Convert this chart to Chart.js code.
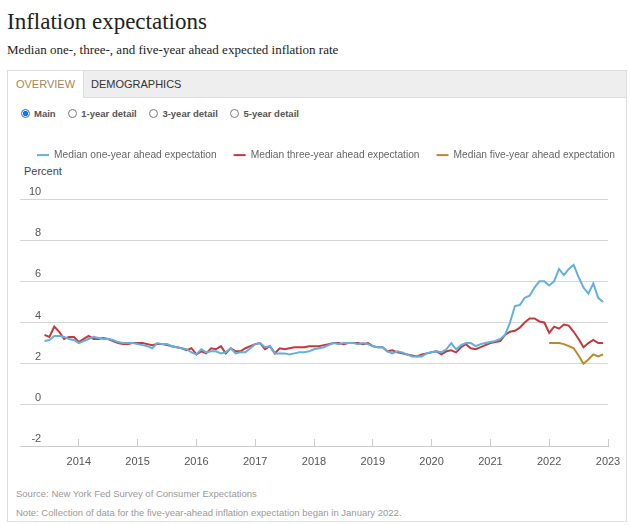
<!DOCTYPE html>
<html>
<head>
<meta charset="utf-8">
<script src="https://cdn.jsdelivr.net/npm/chart.js@4"></script>
<style>
body { margin:0; background:#fff; font-family:"Liberation Sans", Arial, sans-serif; }
#page { position:relative; width:630px; height:525px; overflow:hidden; }
h1 { position:absolute; left:7px; top:9px; margin:0; font:400 23px "Liberation Serif", serif; color:#222; }
.sub { position:absolute; left:7px; top:42px; font:13px "Liberation Serif", serif; color:#222; }
.box { position:absolute; left:7px; top:70px; width:618px; height:450px; border:1px solid #ddd; }
.tabs { position:absolute; left:0; top:0; right:0; height:26px; background:#eee; border-bottom:1px solid #ddd; }
.tab { position:absolute; top:0; height:27px; line-height:27px; font-size:11px; }
.tab.on { left:0; width:75px; background:#fff; color:#a4875a; text-align:center; border-right:1px solid #ddd; }
.tab.off { left:83px; color:#333; }
.radios { position:absolute; left:13px; top:36px; font-size:9.5px; font-weight:bold; color:#555; }
.radios span { display:inline-block; vertical-align:middle; }
.r { width:9px; height:9px; border:1px solid #777; border-radius:50%; margin-right:4px; box-sizing:border-box; }
.r.sel { border:1px solid #1a73e8; background:radial-gradient(circle, #1a73e8 2.5px, #fff 3px); }
.lbl { margin-right:10px; }
.percent { position:absolute; left:24px; top:165px; font-size:11px; color:#444; }
#wrap { position:absolute; left:8px; top:128px; width:640px; height:338px; }
.note { position:absolute; left:16px; font-size:9.5px; color:#999; }
</style>
</head>
<body>
<div id="page">
  <h1>Inflation expectations</h1>
  <div class="sub">Median one-, three-, and five-year ahead expected inflation rate</div>
  <div class="box">
    <div class="tabs">
      <div class="tab on">OVERVIEW</div>
      <div class="tab off">DEMOGRAPHICS</div>
    </div>
    <div class="radios">
      <span class="r sel"></span><span class="lbl">Main</span>
      <span class="r"></span><span class="lbl">1-year detail</span>
      <span class="r"></span><span class="lbl">3-year detail</span>
      <span class="r"></span><span class="lbl">5-year detail</span>
    </div>
  </div>
  <div class="percent">Percent</div>
  <div id="wrap"><canvas id="chart"></canvas></div>
  <div class="note" style="top:488px">Source: New York Fed Survey of Consumer Expectations</div>
  <div class="note" style="top:507px">Note: Collection of data for the five-year-ahead inflation expectation began in January 2022.</div>
</div>
<script>
// monthly medians, June 2013 - Dec 2022
const oneYear = [
    3.1, 3.15, 3.35, 3.35, 3.3, 3.2, 3.15,
    3.0, 3.1, 3.2, 3.3, 3.25, 3.2, 3.2, 3.15, 3.05, 3.0, 3.0, 3.0,
    2.95, 2.9, 2.85, 2.75, 3.0, 2.95, 2.95, 2.85, 2.8, 2.75, 2.7, 2.55,
    2.45, 2.7, 2.55, 2.6, 2.6, 2.5, 2.55, 2.75, 2.5, 2.55, 2.55, 2.75,
    2.95, 3.0, 2.8, 2.85, 2.5, 2.5, 2.5, 2.45, 2.5, 2.55, 2.55, 2.6,
    2.7, 2.75, 2.8, 2.9, 3.0, 2.95, 3.0, 3.0, 3.0, 2.95, 3.0, 2.95,
    2.85, 2.8, 2.8, 2.6, 2.5, 2.6, 2.55, 2.45, 2.35, 2.35, 2.35, 2.5,
    2.55, 2.6, 2.55, 2.7, 3.0, 2.7, 2.9, 3.0, 3.0, 2.85, 2.95, 3.0,
    3.05, 3.1, 3.2, 3.4, 4.0, 4.8, 4.85, 5.2, 5.3, 5.7, 6.0, 6.0,
    5.8, 6.0, 6.6, 6.3, 6.6, 6.8, 6.2, 5.7, 5.4, 5.9, 5.2, 5.0
];
const threeYear = [
    3.4, 3.3, 3.8, 3.55, 3.2, 3.3, 3.3,
    3.05, 3.2, 3.35, 3.2, 3.2, 3.25, 3.2, 3.1, 3.0, 2.95, 2.95, 3.0,
    3.0, 3.0, 2.95, 2.9, 2.95, 2.95, 2.9, 2.85, 2.8, 2.75, 2.65, 2.75,
    2.45, 2.6, 2.5, 2.75, 2.7, 2.85, 2.5, 2.75, 2.6, 2.6, 2.75, 2.85,
    2.95, 3.0, 2.7, 2.85, 2.5, 2.75, 2.7, 2.75, 2.8, 2.8, 2.8, 2.85,
    2.85, 2.85, 2.9, 2.95, 3.0, 3.0, 2.95, 3.0, 3.0, 3.0, 2.95, 3.0,
    2.85, 2.8, 2.8, 2.6, 2.65, 2.55, 2.5, 2.45, 2.4, 2.35, 2.45, 2.5,
    2.55, 2.6, 2.45, 2.6, 2.65, 2.55, 2.8, 2.95, 2.75, 2.7, 2.8, 2.9,
    3.0, 3.05, 3.1, 3.4, 3.55, 3.6, 3.75, 4.0, 4.2, 4.2, 4.05, 4.0,
    3.5, 3.8, 3.7, 3.9, 3.85, 3.55, 3.2, 2.8, 3.0, 3.15, 3.0, 3.0
];
// Jan 2022 - Dec 2022
const fiveYear = [3.0, 3.0, 3.0, 2.95, 2.85, 2.75, 2.4, 2.0, 2.2, 2.45, 2.35, 2.45];

const seriesNames = [
    "Median one-year ahead expectation",
    "Median three-year ahead expectation",
    "Median five-year ahead expectation"
];
const yearTicks = [2014, 2015, 2016, 2017, 2018, 2019, 2020, 2021, 2022, 2023];

function toPoints(values, startYear, startMonth)
{
    return values.map((v, i) => ({
        x: startYear + (startMonth - 1 + i) / 12,
        y: v
    }));
}

// fixed room between the legend and the plot ("Percent" sits there)
const legendSpacer = {
    id: "legendSpacer",
    beforeInit(chart) {
        const fit = chart.legend.fit;
        chart.legend.fit = function() {
            fit.bind(chart.legend)();
            this.height = 66;
        };
    }
};

const ctx = document.getElementById("chart");
const chart = new Chart(ctx, {
    type: "line",
    data: {
        datasets: [
            { label: seriesNames[0], data: toPoints(oneYear, 2013, 6), borderColor: "#62b0e0", backgroundColor: "#62b0e0", borderWidth: 2 },
            { label: seriesNames[1], data: toPoints(threeYear, 2013, 6), borderColor: "#c4393b", backgroundColor: "#c4393b", borderWidth: 2 },
            { label: seriesNames[2], data: toPoints(fiveYear, 2022, 1), borderColor: "#b9892d", backgroundColor: "#b9892d", borderWidth: 2 }
        ]
    },
    options: {
        responsive: true,
        maintainAspectRatio: false,
        animation: false,
        events: [],
        elements: {
            point: { radius: 0 },
            line: { tension: 0 }
        },
        layout: { padding: { left: 12, right: 0, top: 5, bottom: 0 } },
        plugins: {
            legend: {
                align: "start",
                labels: {
                    usePointStyle: true,
                    pointStyle: "line",
                    pointStyleWidth: 12,
                    padding: 17,
                    color: "#666",
                    font: { family: "Liberation Sans", size: 10.2 }
                }
            },
            tooltip: { enabled: false }
        },
        scales: {
            x: {
                type: "linear",
                min: 2013,
                max: 2023,
                afterBuildTicks: axis => { axis.ticks = yearTicks.map(v => ({ value: v })); },
                afterFit: axis => {
                    axis.height = 20;
                    axis.paddingLeft = 0;
                    axis.paddingRight = 40;
                },
                grid: { drawOnChartArea: false, tickLength: -7, color: "#ccc" },
                border: { color: "#ccc" },
                ticks: {
                    padding: 16,
                    maxRotation: 0,
                    color: "#555",
                    font: { family: "Liberation Sans", size: 11 },
                    callback: v => String(v)
                }
            },
            y: {
                min: -2,
                max: 10,
                afterFit: axis => {
                    axis.width = 0;
                    axis.paddingTop = 0;
                    axis.paddingBottom = 0;
                },
                grid: { drawTicks: false, color: "#d6d6d6" },
                border: { display: false },
                ticks: {
                    stepSize: 2,
                    mirror: true,
                    crossAlign: "far",
                    padding: 9,
                    labelOffset: -7,
                    color: "#555",
                    font: { family: "Liberation Sans", size: 11 }
                }
            }
        }
    },
    plugins: [legendSpacer]
});
</script>
</body>
</html>
